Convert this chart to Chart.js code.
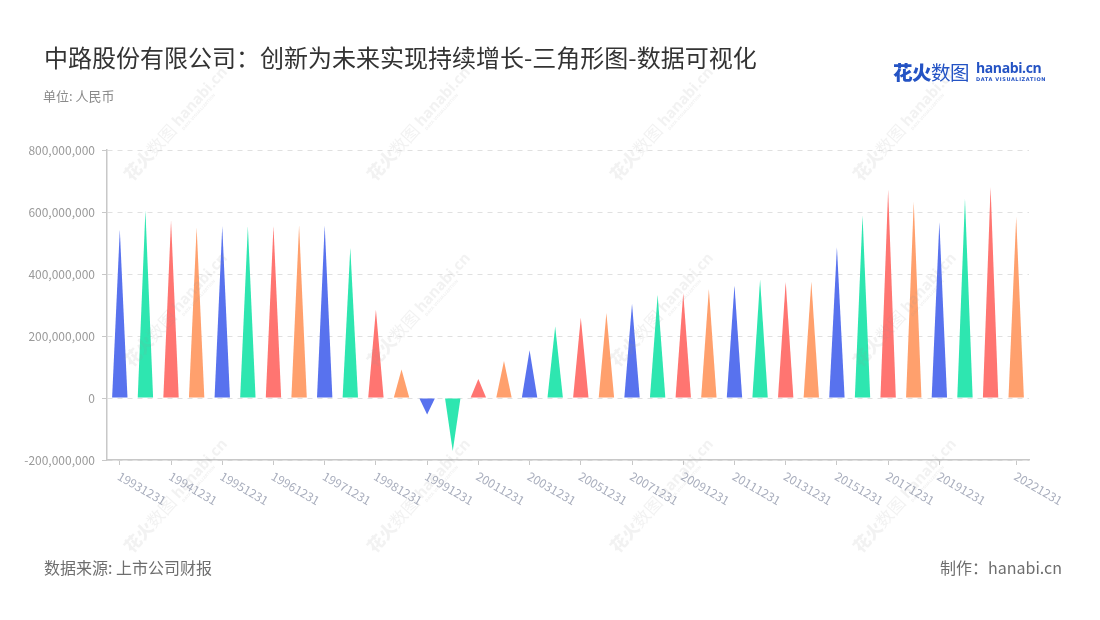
<!DOCTYPE html>
<html>
<head>
<meta charset="utf-8">
<script src="https://cdn.jsdelivr.net/npm/chart.js@4.4.0/dist/chart.umd.min.js"></script>
<style>
  html, body { margin: 0; padding: 0; background: #fff; }
  #wrap { position: relative; width: 1100px; height: 620px; overflow: hidden; font-family: "Noto Sans CJK SC", "Noto Sans", sans-serif; }
  canvas { position: absolute; left: 0; top: 0; display: block; }
  .txt { position: absolute; white-space: nowrap; }
  #title { left: 44px; top: 45px; font-size: 24px; line-height: 24px; color: #333; }
  #unit { left: 43px; top: 89px; font-size: 13px; line-height: 14px; color: #8a8a8a; }
  #source { left: 44px; top: 558px; font-size: 16px; line-height: 18px; color: #6e6e6e; }
  #maker { right: 38px; top: 558px; font-size: 16px; line-height: 18px; color: #6e6e6e; }
  #logo1 { left: 893px; top: 61px; font-size: 19.5px; line-height: 22px; color: #2453c4; letter-spacing: -0.5px; }
  #logo1 b { font-weight: 900; }
  #logo1 span { font-weight: 400; }
  #logo2 { left: 976px; top: 60px; font-size: 14px; line-height: 16px; font-weight: 700; color: #2453c4; font-family: "Open Sans", sans-serif; letter-spacing: -0.4px; }
  #logo3 { left: 976px; top: 76px; font-size: 5px; line-height: 6px; font-weight: 700; color: #2453c4; letter-spacing: 0.6px; font-family: "DejaVu Sans", sans-serif; }
</style>
</head>
<body>
<div id="wrap">
  <canvas id="c" width="1100" height="620"></canvas>
  <div class="txt" id="title">中路股份有限公司：创新为未来实现持续增长-三角形图-数据可视化</div>
  <div class="txt" id="unit">单位: 人民币</div>
  <div class="txt" id="source">数据来源: 上市公司财报</div>
  <div class="txt" id="maker">制作：hanabi.cn</div>
  <div class="txt" id="logo1"><b>花火</b><span>数图</span></div>
  <div class="txt" id="logo2">hanabi.cn</div>
  <div class="txt" id="logo3">DATA VISUALIZATION</div>
</div>
<script>
// ---- data ----
const categories = [
  '19931231','19940630','19941231','19950630','19951231','19960630','19961231',
  '19970630','19971231','19980630','19981231','19990630','19991231',
  '20001231','20011231','20021231','20031231','20041231','20051231','20061231',
  '20071231','20081231','20091231','20101231','20111231','20121231','20131231',
  '20141231','20151231','20161231','20171231','20181231','20191231','20201231',
  '20211231','20221231'
];
const values = [
  543000000, 605000000, 573000000, 550000000, 554000000, 554000000, 555000000,
  557000000, 557000000, 485000000, 285000000, 92000000, -53000000,
  -171000000, 61000000, 119000000, 154000000, 231000000, 259000000, 274000000,
  304000000, 333000000, 339000000, 352000000, 364000000, 382000000, 375000000,
  376000000, 487000000, 589000000, 672000000, 632000000, 568000000, 643000000,
  681000000, 584000000
];
const yTicks = [-200000000, 0, 200000000, 400000000, 600000000, 800000000];
const palette = ['#5872ee', '#2ee6b0', '#ff7571', '#ffa06d'];

const FONT = '"Noto Sans CJK SC", "Noto Sans", sans-serif';

function showLabel(i) {
  const n = categories.length;
  return i === n - 1 || (i % 2 === 0 && i < n - 2);
}

const trianglePlugin = {
  id: 'triangles',
  afterDatasetsDraw(chart) {
    const meta = chart.getDatasetMeta(0);
    const ctx = chart.ctx;
    ctx.save();
    meta.data.forEach((bar, i) => {
      const p = bar.getProps(['x', 'y', 'base', 'width'], true);
      ctx.beginPath();
      ctx.moveTo(p.x - p.width / 2, p.base);
      ctx.lineTo(p.x, p.y);
      ctx.lineTo(p.x + p.width / 2, p.base);
      ctx.closePath();
      ctx.fillStyle = palette[i % palette.length];
      ctx.fill();
    });
    ctx.restore();
  }
};

const xLabelPlugin = {
  id: 'xlabels',
  afterDraw(chart) {
    const xs = chart.scales.x;
    const ctx = chart.ctx;
    ctx.save();
    ctx.font = '12px ' + FONT;
    ctx.fillStyle = '#a9aebd';
    ctx.textAlign = 'left';
    ctx.textBaseline = 'middle';
    categories.forEach((lab, i) => {
      if (!showLabel(i)) return;
      const x = xs.getPixelForTick(i);
      ctx.save();
      ctx.translate(x - 1, chart.chartArea.bottom + 15);
      ctx.rotate(Math.PI / 6);
      ctx.fillText(lab, 0, 0);
      ctx.restore();
    });
    ctx.restore();
  }
};

const watermarkPlugin = {
  id: 'watermark',
  afterDraw(chart) {
    const ctx = chart.ctx;
    const cols = [132, 375, 618, 861];
    const rows = [182, 368, 554];
    ctx.save();
    ctx.fillStyle = 'rgba(150,150,150,0.12)';
    rows.forEach(y => cols.forEach(x => {
      ctx.save();
      ctx.translate(x, y);
      ctx.rotate(-48 * Math.PI / 180);
      ctx.textBaseline = 'alphabetic';
      ctx.textAlign = 'left';
      ctx.font = '900 17px ' + FONT;
      ctx.fillText('花火', 0, 0);
      ctx.font = '400 17px ' + FONT;
      ctx.fillText('数图', 34, 0);
      ctx.font = 'bold 15px "Open Sans", sans-serif';
      ctx.fillText('hanabi.cn', 72, -2);
      ctx.font = 'bold 4px "DejaVu Sans", sans-serif';
      ctx.fillText('DATA VISUALIZATION', 73, 4);
      ctx.restore();
    }));
    ctx.restore();
  }
};

new Chart(document.getElementById('c'), {
  type: 'bar',
  data: {
    labels: categories,
    datasets: [{
      data: values,
      backgroundColor: 'rgba(0,0,0,0)',
      borderWidth: 0,
      barPercentage: 0.6,
      categoryPercentage: 1.0
    }]
  },
  options: {
    responsive: false,
    animation: false,
    layout: { padding: { left: 0, top: 150, right: 71, bottom: 160 } },
    plugins: { legend: { display: false }, tooltip: { enabled: false } },
    scales: {
      x: {
        offset: true,
        grid: {
          display: true,
          drawOnChartArea: false,
          offset: false,
          drawTicks: true,
          tickLength: 5,
          tickColor: (c) => showLabel(c.index) ? '#c8c8c8' : 'rgba(0,0,0,0)'
        },
        border: { display: true, color: '#c8c8c8', width: 1.5 },
        ticks: { display: false, autoSkip: false },
        afterFit: (s) => { s.height = 0; }
      },
      y: {
        min: yTicks[0],
        max: yTicks[yTicks.length - 1],
        afterBuildTicks: (s) => { s.ticks = yTicks.map(v => ({ value: v })); },
        ticks: {
          color: '#9a9a9a',
          font: { size: 12, family: FONT },
          padding: 7,
          callback: (v) => Number(v).toLocaleString('en-US')
        },
        grid: { color: '#e0e0e0', drawTicks: true, tickLength: 5, tickColor: '#c8c8c8' },
        border: { display: true, color: '#c8c8c8', width: 1.5, dash: [5, 5] },
        afterFit: (s) => { s.width = 107; }
      }
    }
  },
  plugins: [trianglePlugin, xLabelPlugin, watermarkPlugin]
});
</script>
</body>
</html>
